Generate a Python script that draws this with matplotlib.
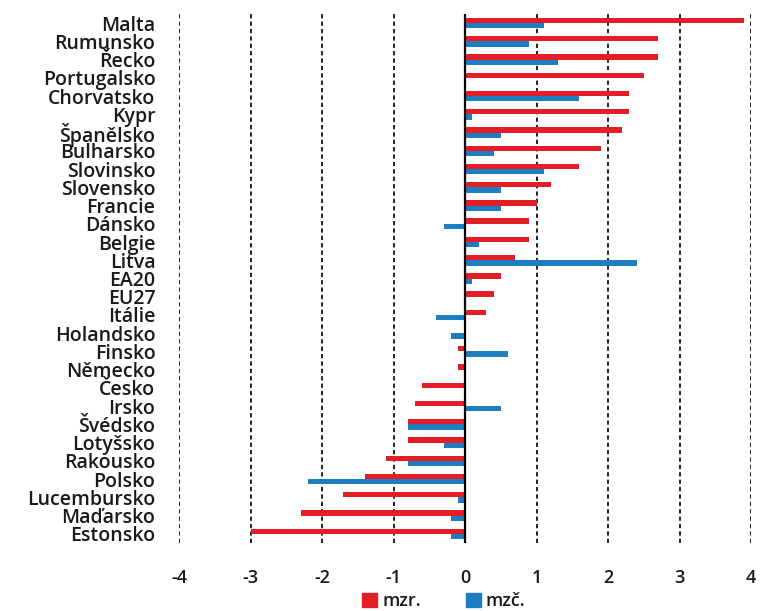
import matplotlib
matplotlib.use("Agg")
import matplotlib.pyplot as plt
from matplotlib.patches import Patch

categories = ["Malta", "Rumunsko", "Řecko", "Portugalsko", "Chorvatsko", "Kypr",
              "Španělsko", "Bulharsko", "Slovinsko", "Slovensko", "Francie", "Dánsko",
              "Belgie", "Litva", "EA20", "EU27", "Itálie", "Holandsko", "Finsko",
              "Německo", "Česko", "Irsko", "Švédsko", "Lotyšsko", "Rakousko", "Polsko",
              "Lucembursko", "Maďarsko", "Estonsko"]
mzr = [3.9, 2.7, 2.7, 2.5, 2.3, 2.3, 2.2, 1.9, 1.6, 1.2, 1.0, 0.9, 0.9, 0.7, 0.5, 0.4,
       0.3, 0.0, -0.1, -0.1, -0.6, -0.7, -0.8, -0.8, -1.1, -1.4, -1.7, -2.3, -3.0]
mzc = [1.1, 0.9, 1.3, 0.0, 1.6, 0.1, 0.5, 0.4, 1.1, 0.5, 0.5, -0.3, 0.2, 2.4, 0.1, 0.0,
       -0.4, -0.2, 0.6, 0.0, 0.0, 0.5, -0.8, -0.3, -0.8, -2.2, -0.1, -0.2, -0.2]
xticks = [-4, -3, -2, -1, 0, 1, 2, 3, 4]
series_names = ["mzr.", "mzč."]

RED = "#E31E26"
BLUE = "#1C7DC1"
TXT = "#1a1a1a"

plt.rcParams['font.family'] = ['Open Sans', 'DejaVu Sans']

fig = plt.figure(figsize=(7.6, 6.11), dpi=100)
ax = fig.add_axes([179/760, 1-543/611, (751-179)/760, (543-14)/611])

h = 0.29
idx = list(range(len(categories)))
ax.barh([i - h/2 for i in idx], mzr, height=h, color=RED, zorder=3)
ax.barh([i + h/2 for i in idx], mzc, height=h, color=BLUE, zorder=3)

ax.set_xlim(-4, 4)
ax.set_ylim(len(categories) - 0.5, -0.5)

for x in xticks:
    if x == 0:
        ax.axvline(0, color="black", lw=1.6, zorder=4)
    else:
        ax.axvline(x, color="#222222", lw=1.4, ls=(0, (2.2, 1.6)), zorder=1)

for s in ax.spines.values():
    s.set_visible(False)

ax.set_yticks(idx)
ax.set_yticklabels(categories, fontsize=14, fontweight='semibold', color=TXT)
ax.set_xticks(xticks)
ax.set_xticklabels([str(x) for x in xticks], fontsize=13, fontweight='semibold', color=TXT)
ax.tick_params(axis='y', length=0, pad=17)
ax.tick_params(axis='x', length=0, pad=19)

handles = [Patch(color=RED), Patch(color=BLUE)]
fig.legend(handles, series_names, loc='center', bbox_to_anchor=(444/760, 1-601/611),
           ncol=2, frameon=False, handlelength=0.8, handleheight=0.8,
           handletextpad=0.3, columnspacing=2.5, prop={'size': 13, 'weight': 'semibold'},
           labelcolor=TXT, borderaxespad=0, borderpad=0)

fig.savefig("out.png", dpi=100)
